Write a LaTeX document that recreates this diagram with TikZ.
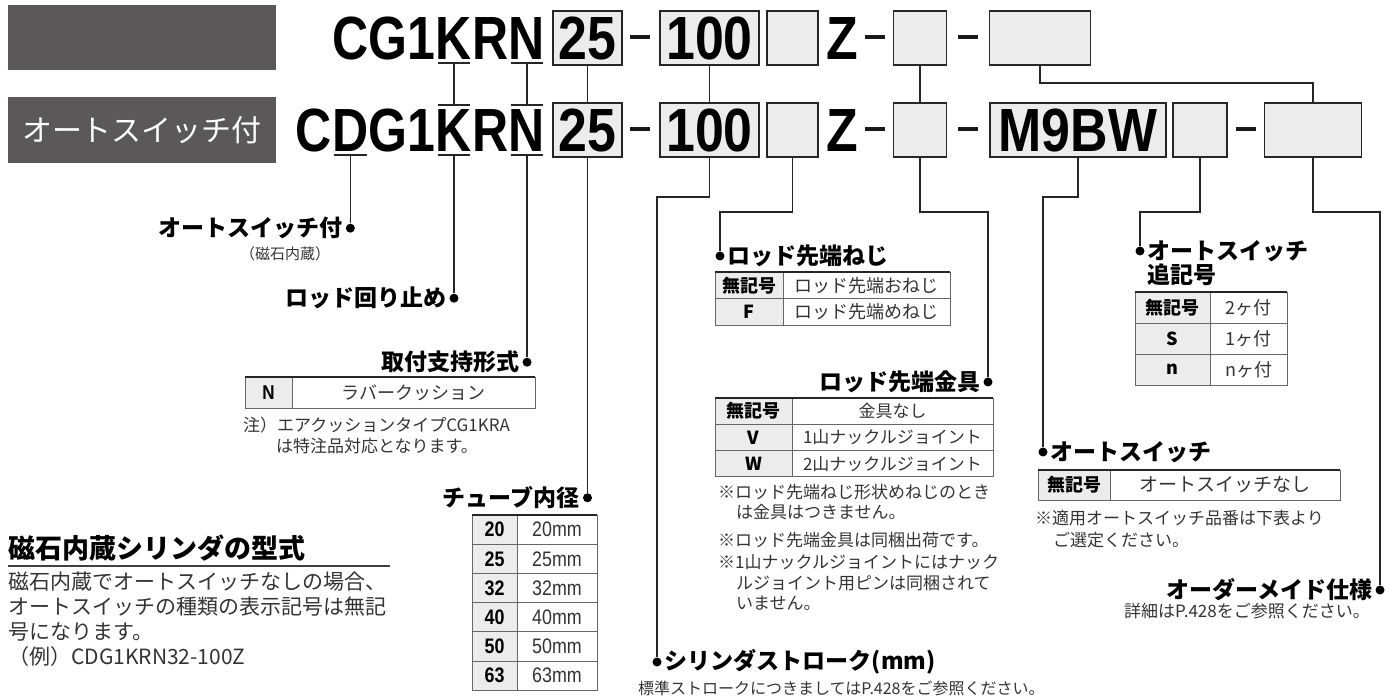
\documentclass[tikz,border=0pt]{standalone}
\usepackage{fontspec}
\setmainfont{Noto Sans CJK JP}
\newfontfamily\jp{Noto Sans CJK JP}
\newfontfamily\cond[FakeStretch=0.85]{Liberation Sans}
\newfontfamily\condl[FakeStretch=0.82]{Liberation Sans}
\usetikzlibrary{positioning}
\definecolor{fondgris}{HTML}{5A5858}
\definecolor{casegris}{HTML}{ECECEC}
\definecolor{texte}{HTML}{333333}
\newcommand{\taille}[1]{\fontsize{#1}{#1}\selectfont}

\begin{document}
\begin{tikzpicture}[x=1pt, y=-1pt,
    code/.style={font=\cond\bfseries\taille{61}, inner sep=0pt, text height=44pt, text depth=0pt},
    lettre/.style={code, font=\condl\bfseries\taille{61}},
    cbox/.style={code, draw=black!85, line width=1.5pt, fill=casegris, minimum height=54pt},
    tiret/.style={fill=black!90, inner sep=0pt, minimum width=20pt, minimum height=3.5pt},
    trait/.style={line width=1.6pt, black!85},
    barre/.style={line width=1.8pt, black!85, shorten <=2pt, shorten >=2pt},
    dot/.style={circle, fill=black, inner sep=0pt, minimum size=9pt},
    lab/.style={font=\jp\bfseries\taille{23}, inner sep=1pt},
    sub/.style={font=\jp\taille{16}, text=texte, inner sep=0pt},
    note/.style={font=\jp\taille{17}, text=texte, inner sep=0pt, anchor=west},
    kcell/.style={draw=black!60, line width=0.8pt, fill=casegris, inner sep=0pt, font=\jp\bfseries\taille{18}},
    vcell/.style={draw=black!60, line width=0.8pt, fill=white, inner sep=0pt, font=\jp\taille{18}, text=texte},
    haut/.style={line width=2pt, black!85}]
    \useasboundingbox (0,0) rectangle (1393,700);

    % Bandeaux gris
    \node[fill=fondgris, minimum width=268pt, minimum height=65pt] (hd1) at (142,37.5) {};
    \node[fill=fondgris, minimum width=268pt, minimum height=66pt, text=white, font=\jp\taille{30}] (hd2) at (142,130) {オートスイッチ付};

    % Ligne 1 : CG1KRN
    \node[lettre, anchor=base] (k1) at (454,60) {K};
    \node[lettre, anchor=base east] (cg1) at (k1.base west) {CG1};
    \node[lettre, anchor=base west] (r1) at (k1.base east) {R};
    \node[lettre, anchor=base west] (n1) at (r1.base east) {N};
    \node[cbox, minimum width=69pt] (a25) at (587.5,38) {25};
    \node[tiret] (m1) at (640,37) {};
    \node[cbox, minimum width=99pt] (a100) at (709.5,38) {100};
    \node[cbox, minimum width=51pt] (ae) at (792.5,38) {};
    \node[code, anchor=base] (z1) at (842,60) {Z};
    \node[tiret] (m2) at (875,37) {};
    \node[cbox, minimum width=53pt] (ab) at (920,38) {};
    \node[tiret] (m3) at (968,37) {};
    \node[cbox, minimum width=101pt] (ax) at (1040,38) {};

    % Ligne 2 : CDG1KRN
    \node[lettre, anchor=base] (k2) at (454,152) {K};
    \node[lettre, anchor=base east] (g2) at (k2.base west) {G1};
    \node[lettre, anchor=base east] (d2) at (g2.base west) {D};
    \node[lettre, anchor=base east] (c2) at (d2.base west) {C};
    \node[lettre, anchor=base west] (r2) at (k2.base east) {R};
    \node[lettre, anchor=base west] (n2) at (r2.base east) {N};
    \node[cbox, minimum width=69pt] (b25) at (587.5,130) {25};
    \node[tiret] (m4) at (640,129) {};
    \node[cbox, minimum width=99pt] (b100) at (709.5,130) {100};
    \node[cbox, minimum width=51pt] (be) at (792.5,130) {};
    \node[code, anchor=base] (z2) at (842,152) {Z};
    \node[tiret] (m5) at (875,129) {};
    \node[cbox, minimum width=53pt] (bb) at (920,130) {};
    \node[tiret] (m6) at (968,129) {};
    \node[cbox, minimum width=176pt] (bm) at (1078,130) {M9BW};
    \node[cbox, minimum width=54pt] (bs) at (1200,130) {};
    \node[tiret] (m7) at (1246,129) {};
    \node[cbox, minimum width=97pt] (bx) at (1313,130) {};

    % Liaisons entre les deux lignes
    \draw[barre] ([yshift=-3pt]k1.south west) -- ([yshift=-3pt]k1.south east);
    \draw[barre] ([yshift=-3pt]n1.south west) -- ([yshift=-3pt]n1.south east);
    \draw[barre] ([yshift=3pt]k2.north west) -- ([yshift=3pt]k2.north east);
    \draw[barre] ([yshift=3pt]n2.north west) -- ([yshift=3pt]n2.north east);
    \draw[trait] ([yshift=-3pt]k1.south) -- ([yshift=3pt]k2.north);
    \draw[trait] ([yshift=-3pt]n1.south) -- ([yshift=3pt]n2.north);
    \draw[trait] (a25.south) -- (b25.north);
    \draw[trait] (a100.south) -- (b100.north);
    \draw[trait] (ab.south) -- (bb.north);
    \draw[trait] (ax.south) -- ++(0,17) -| (bx.north);

    % Points d'arrivee
    \node[dot] (pD) at ([yshift=-76pt]d2.south) {};
    \node[dot] (pK) at ([yshift=-146pt]k2.south) {};
    \node[dot] (pN) at ([yshift=-210pt]n2.south) {};
    \node[dot] (p25) at ([yshift=-340pt]b25.south) {};
    \node[dot] (p100) at (657,662) {};
    \node[dot] (pE) at (720,256) {};
    \node[dot] (pZ) at (988,382) {};
    \node[dot] (pM) at (1043,452) {};
    \node[dot] (pS) at (1140,251) {};
    \node[dot] (pO) at (1380,590) {};

    % Traits vers les rubriques
    \draw[barre] ([yshift=-3pt]d2.south west) -- ([yshift=-3pt]d2.south east);
    \draw[barre] ([yshift=-3pt]k2.south west) -- ([yshift=-3pt]k2.south east);
    \draw[barre] ([yshift=-3pt]n2.south west) -- ([yshift=-3pt]n2.south east);
    \draw[trait] ([yshift=-3pt]d2.south) -- (pD);
    \draw[trait] ([yshift=-3pt]k2.south) -- (pK);
    \draw[trait] ([yshift=-3pt]n2.south) -- (pN);
    \draw[trait] (b25.south) -- (p25);
    \draw[trait] (b100.south) -- ++(0,39) -| (p100);
    \draw[trait] (be.south) -- ++(0,54) -| (pE);
    \draw[trait] (bb.south) -- ++(0,54) -| (pZ);
    \draw[trait] (bm.south) -- ++(0,39) -| (pM);
    \draw[trait] (bs.south) -- ++(0,54) -| (pS);
    \draw[trait] (bx.south) -- ++(0,54) -| (pO);

    % Rubriques
    \node[lab, left=2pt of pD] (lD) {オートスイッチ付};
    \node[sub, font=\jp\taille{15}] (sD) at (285,254) {（磁石内蔵）};
    \node[lab, left=2pt of pK] (lK) {ロッド回り止め};
    \node[lab, left=2pt of pN] (lN) {取付支持形式};
    \node[lab, left=2pt of p25] (l25) {チューブ内径};
    \node[lab, right=2pt of p100] (l100) {シリンダストローク(mm)};
    \node[sub, anchor=west] (s100) at (638,688) {標準ストロークにつきましてはP.428をご参照ください。};
    \node[lab, right=2pt of pE] (lE) {ロッド先端ねじ};
    \node[lab, left=2pt of pZ] (lZ) {ロッド先端金具};
    \node[lab, right=2pt of pM] (lM) {オートスイッチ};
    \node[lab, right=2pt of pS] (lS1) {オートスイッチ};
    \node[lab, below=0pt of lS1.south west, anchor=north west] (lS2) {追記号};
    \node[lab, left=2pt of pO] (lO) {オーダーメイド仕様};
    \node[sub, font=\jp\taille{17}, anchor=east] (sO) at (1370,611) {詳細はP.428をご参照ください。};

    % Tableau : support
    \node[kcell, font=\cond\bfseries\taille{20}, minimum width=47pt, minimum height=31pt] (tN1) at (268.5,392.5) {N};
    \node[vcell, minimum width=243pt, minimum height=31pt] (tN2) at (413.5,392.5) {ラバークッション};
    \draw[haut] (tN1.north west) -- (tN2.north east);
    \node[note] (nN1) at (243,425) {注）エアクッションタイプCG1KRA};
    \node[note] (nN2) at (276,446) {は特注品対応となります。};

    % Tableau : alesage
    \foreach \val [count=\i] in {20,25,32,40,50,63} {
        \node[kcell, font=\cond\bfseries\taille{21}, minimum width=45pt, minimum height=29.2pt] (tD\i) at (494.5,{500.4+29.2*\i}) {\val};
        \node[vcell, font=\cond\taille{21}, minimum width=80pt, minimum height=29.2pt] (tV\i) at (557,{500.4+29.2*\i}) {\val mm};
    }
    \draw[haut] (tD1.north west) -- (tV1.north east);

    % Tableau : filetage de tige
    \foreach \cle/\val [count=\i] in {無記号/ロッド先端おねじ, F/ロッド先端めねじ} {
        \node[kcell, minimum width=68pt, minimum height=26.5pt] (tF\i) at (749,{258.75+26.5*\i}) {\cle};
        \node[vcell, minimum width=167pt, minimum height=26.5pt] (tG\i) at (866.5,{258.75+26.5*\i}) {\val};
    }
    \draw[haut] (tF1.north west) -- (tG1.north east);

    % Tableau : embout de tige
    \foreach \cle/\val [count=\i] in {無記号/金具なし, V/1山ナックルジョイント, W/2山ナックルジョイント} {
        \node[kcell, minimum width=77pt, minimum height=26.3pt] (tK\i) at (753.5,{384.85+26.3*\i}) {\cle};
        \node[vcell, font=\jp\taille{17}, minimum width=201pt, minimum height=26.3pt] (tJ\i) at (892.5,{384.85+26.3*\i}) {\val};
    }
    \draw[haut] (tK1.north west) -- (tJ1.north east);
    \node[note] (nJ1) at (718,492) {※ロッド先端ねじ形状めねじのとき};
    \node[note] (nJ2) at (736,512) {は金具はつきません。};
    \node[note] (nJ3) at (718,540) {※ロッド先端金具は同梱出荷です。};
    \node[note] (nJ4) at (718,562) {※1山ナックルジョイントにはナック};
    \node[note] (nJ5) at (736,583) {ルジョイント用ピンは同梱されて};
    \node[note] (nJ6) at (736,603) {いません。};

    % Tableau : nombre de detecteurs
    \foreach \cle/\val [count=\i] in {無記号/2ヶ付, S/1ヶ付, n/nヶ付} {
        \node[kcell, minimum width=75pt, minimum height=31pt] (tS\i) at (1172.5,{276.5+31*\i}) {\cle};
        \node[vcell, minimum width=77pt, minimum height=31pt] (tT\i) at (1248.5,{276.5+31*\i}) {\val};
    }
    \draw[haut] (tS1.north west) -- (tT1.north east);

    % Tableau : detecteur
    \node[kcell, minimum width=72pt, minimum height=30pt] (tM1) at (1074,485) {無記号};
    \node[vcell, font=\jp\taille{19}, minimum width=230pt, minimum height=30pt] (tM2) at (1225,485) {オートスイッチなし};
    \draw[haut] (tM1.north west) -- (tM2.north east);
    \node[note] (nM1) at (1035,518) {※適用オートスイッチ品番は下表より};
    \node[note] (nM2) at (1053,540) {ご選定ください。};

    % Encadre : cylindre a aimant
    \node[font=\jp\bfseries\taille{27}, anchor=west, inner sep=0pt] (tit) at (8,548) {磁石内蔵シリンダの型式};
    \draw[line width=1.5pt, black!75] (8,566) -- (390,566);
    \node[note, font=\jp\taille{21}] (cb1) at (8,582) {磁石内蔵でオートスイッチなしの場合、};
    \node[note, font=\jp\taille{21}] (cb2) at (8,607) {オートスイッチの種類の表示記号は無記};
    \node[note, font=\jp\taille{21}] (cb3) at (8,632) {号になります。};
    \node[note, font=\jp\taille{21}] (cb4) at (8,657) {（例）CDG1KRN32-100Z};
\end{tikzpicture}
\end{document}
